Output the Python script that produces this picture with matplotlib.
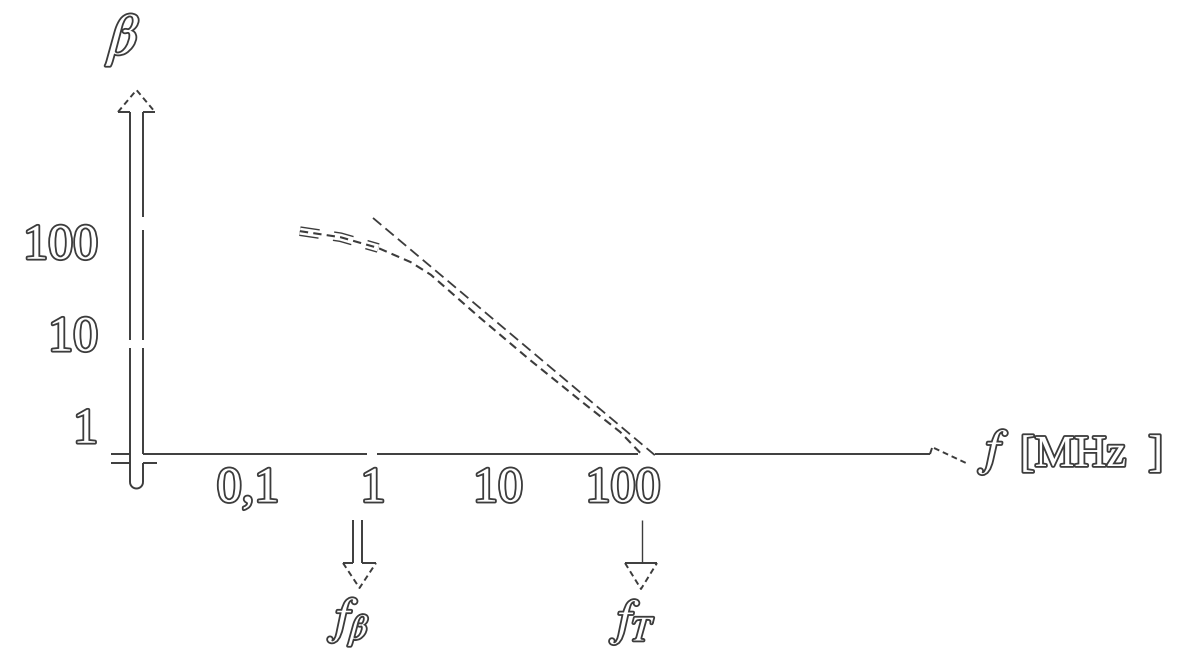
import matplotlib
matplotlib.use('Agg')
import numpy as np
import matplotlib.pyplot as plt
import matplotlib.patheffects as pe
import matplotlib.transforms as mt
import matplotlib.ticker as mticker

# ---- data ----
curve_f = [0.26, 0.55, 1.1, 2.0, 2.9, 7.2, 18, 45, 95, 137]
curve_beta = [128, 110, 84, 59, 43, 14.6, 5.1, 1.87, 0.84, 0.50]
asym_f = [1.0, 180]
asym_beta = [178, 0.47]
x_ticks = [0.1, 1, 10, 100]
x_tick_labels = ['0,1', '1', '10', '100']
y_ticks = [1, 10, 100]
y_tick_labels = ['1', '10', '100']

W, H = 1191, 650
GRAY = '#3c3c3c'
plt.rcParams['font.family'] = ['Liberation Serif', 'DejaVu Serif']
plt.rcParams['mathtext.fontset'] = 'stix'

fig = plt.figure(figsize=(W / 100, H / 100), dpi=100)
fig.patch.set_facecolor('white')
# pixel coordinates (top-left origin) for decorations
px = mt.Affine2D().scale(1 / W, -1 / H).translate(0, 1) + fig.transFigure

ax = fig.add_axes([137 / W, (H - 455) / H, (930 - 137) / W, (455 - 112) / H])
ax.set_xscale('log')
ax.set_yscale('log')
ax.set_xlim(0.01294, 28580)
ax.set_ylim(0.4723, 2525)
ax.patch.set_alpha(0)
for s in ax.spines.values():
    s.set_visible(False)

outline = [pe.withStroke(linewidth=2.6, foreground=GRAY)]

ax.set_xticks(x_ticks, x_tick_labels)
ax.set_yticks(y_ticks, y_tick_labels)
ax.xaxis.set_minor_locator(mticker.NullLocator())
ax.yaxis.set_minor_locator(mticker.NullLocator())
ax.tick_params(axis='x', length=0, labelsize=36, pad=8, labelcolor='white')
ax.tick_params(axis='y', length=0, labelsize=36, pad=28, labelcolor='white')
for t in ax.get_xticklabels() + ax.get_yticklabels():
    t.set_path_effects(outline)

# ---- curves ----
ax.plot(curve_f[:3], curve_beta[:3], color=GRAY, lw=7, ls=(0, (2, 1.5)), clip_on=False,
        solid_capstyle='butt', dash_capstyle='butt')
ax.plot(curve_f[:3], curve_beta[:3], color='white', lw=5, clip_on=False, solid_capstyle='butt')
ax.plot(curve_f, curve_beta, color=GRAY, lw=1.5, ls=(0, (4, 2.5)), clip_on=False)
ax.plot(asym_f, asym_beta, color=GRAY, lw=1.3, ls=(0, (6, 3)), clip_on=False)

# ---- axes drawn as hollow sketch strokes ----
def line(xs, ys, **kw):
    d = dict(color=GRAY, lw=1.4, transform=px, clip_on=False, solid_capstyle='butt')
    d.update(kw)
    fig.add_artist(plt.Line2D(xs, ys, **d))

# y axis shaft (two edges, with small gaps) and rounded bottom
line([130, 130], [112, 340]); line([130, 130], [348, 482])
line([143, 143], [112, 217]); line([143, 143], [230, 340]); line([143, 143], [348, 454])
line([143, 143], [463, 482])
th = np.linspace(np.pi, 2 * np.pi, 20)
line(136.5 + 6.5 * np.cos(th), 482 - 6.5 * np.sin(th))
# y arrowhead
line([118, 136.5, 155], [112, 90, 112], ls=(0, (3, 2)))
line([118, 130], [112, 112]); line([143, 155], [112, 112])

# x axis
line([111, 130], [454, 454]); line([111, 130], [463, 463]); line([143, 157], [463, 463])
line([143, 367], [454, 454]); line([377, 638], [454, 454]); line([655, 930], [454, 454])
line([930, 932], [454, 448])
line([934, 966], [448, 463], ls=(0, (3, 2)))

# f_beta arrow (hollow)
line([353, 353], [520, 563]); line([362, 362], [520, 563])
line([343, 353], [563, 563]); line([362, 376], [563, 563])
line([343, 359.5, 376], [563, 588, 563], ls=(0, (3, 2)))
# f_T arrow (thin)
line([642, 642], [520, 563], lw=1.0)
line([625, 657], [563, 563])
line([625, 641, 657], [563, 589, 563], ls=(0, (3, 2)))

# ---- labels ----
def label(x, y, s, size, **kw):
    fig.text(x, y, s, transform=px, fontsize=size, color='white', ha='center', va='center',
             path_effects=outline, **kw)

label(125, 40, r'$\beta$', 42)
label(356, 622, r'$f_{\beta}$', 36)
label(640, 622, r'$f_{T}$', 36)
label(1001, 452, r'$f$', 36)
fig.text(1020, 455, '[MHz  ]', transform=px, fontsize=32, color='white', ha='left',
         va='center', path_effects=outline)

fig.savefig('out.png', dpi=100, facecolor='white')
